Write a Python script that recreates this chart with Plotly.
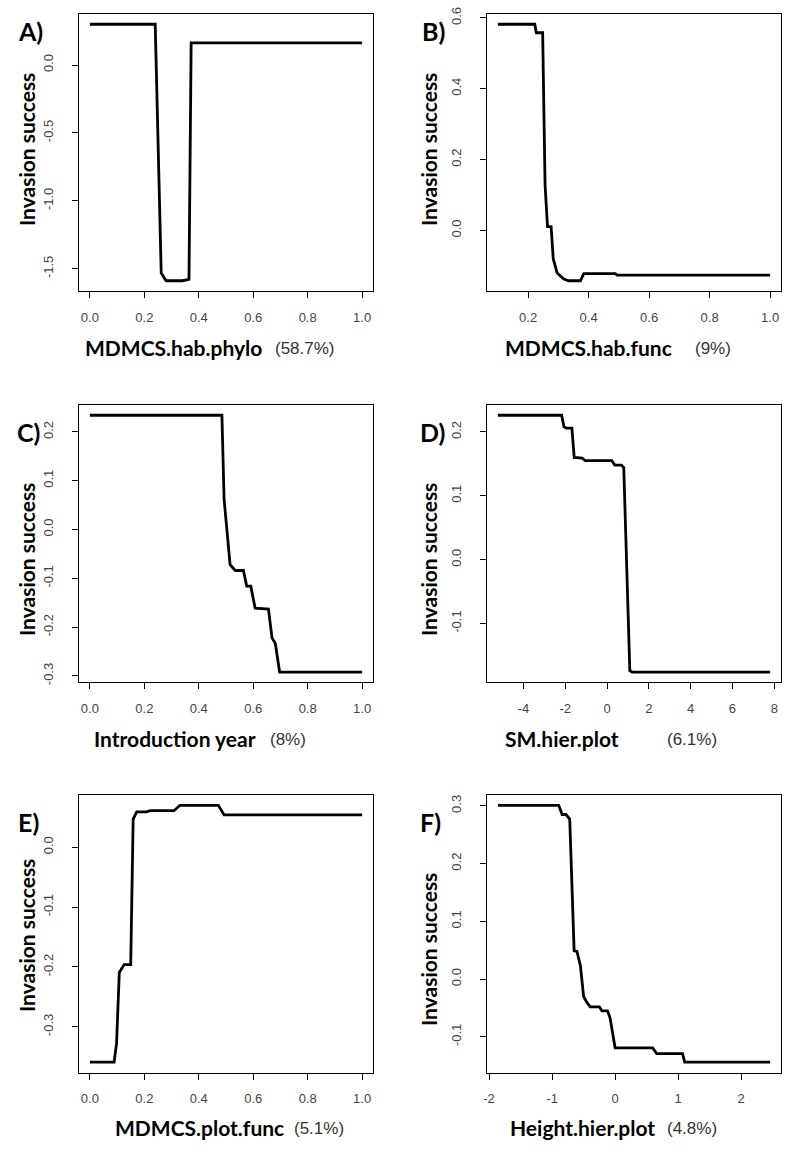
import plotly.graph_objects as go

W, H = 800, 1154

# ---------------- data ----------------
xA = [0.0, 0.240, 0.262, 0.280, 0.340, 0.364, 0.372, 1.0]
yA = [0.300, 0.300, -1.532, -1.588, -1.588, -1.578, 0.163, 0.163]

xB = [0.1, 0.222, 0.227, 0.248, 0.256, 0.264, 0.276, 0.283, 0.296, 0.318, 0.334, 0.373, 0.384, 0.488, 0.494, 1.0]
yB = [0.582, 0.582, 0.558, 0.558, 0.129, 0.011, 0.011, -0.080, -0.120, -0.137, -0.142, -0.142, -0.122, -0.122, -0.126, -0.126]

xC = [0.0, 0.485, 0.493, 0.515, 0.534, 0.564, 0.576, 0.591, 0.607, 0.656, 0.669, 0.681, 0.697, 1.0]
yC = [0.234, 0.234, 0.062, -0.072, -0.084, -0.084, -0.116, -0.116, -0.161, -0.163, -0.222, -0.233, -0.292, -0.292]

xD = [-5.22, -2.17, -2.06, -1.95, -1.68, -1.57, -1.19, -1.04, 0.23, 0.37, 0.69, 0.80, 1.09, 1.20, 7.8]
yD = [0.226, 0.226, 0.208, 0.206, 0.206, 0.160, 0.159, 0.155, 0.155, 0.148, 0.148, 0.144, -0.174, -0.176, -0.176]

xE = [0.0, 0.089, 0.098, 0.108, 0.126, 0.150, 0.159, 0.172, 0.208, 0.221, 0.309, 0.331, 0.472, 0.493, 1.0]
yE = [-0.359, -0.359, -0.327, -0.209, -0.196, -0.196, 0.047, 0.059, 0.059, 0.061, 0.061, 0.070, 0.070, 0.054, 0.054]

xF = [-1.86, -0.895, -0.84, -0.78, -0.72, -0.65, -0.605, -0.55, -0.50, -0.45, -0.395, -0.25, -0.21, -0.12, -0.08, 0.0,
      0.595, 0.66, 1.07, 1.105, 2.46]
yF = [0.301, 0.301, 0.285, 0.285, 0.277, 0.049, 0.048, 0.023, -0.030, -0.040, -0.048, -0.048, -0.055, -0.055, -0.067,
      -0.119, -0.119, -0.129, -0.129, -0.144, -0.144]

panel_letters = ["A)", "B)", "C)", "D)", "E)", "F)"]
var_names = ["MDMCS.hab.phylo", "MDMCS.hab.func", "Introduction year", "SM.hier.plot", "MDMCS.plot.func", "Height.hier.plot"]
importance = ["(58.7%)", "(9%)", "(8%)", "(6.1%)", "(5.1%)", "(4.8%)"]
y_label = "Invasion success"

x_ticks = [
    [0.0, 0.2, 0.4, 0.6, 0.8, 1.0],
    [0.2, 0.4, 0.6, 0.8, 1.0],
    [0.0, 0.2, 0.4, 0.6, 0.8, 1.0],
    [-4, -2, 0, 2, 4, 6, 8],
    [0.0, 0.2, 0.4, 0.6, 0.8, 1.0],
    [-2, -1, 0, 1, 2],
]
x_ticktext = [
    ["0.0", "0.2", "0.4", "0.6", "0.8", "1.0"],
    ["0.2", "0.4", "0.6", "0.8", "1.0"],
    ["0.0", "0.2", "0.4", "0.6", "0.8", "1.0"],
    ["-4", "-2", "0", "2", "4", "6", "8"],
    ["0.0", "0.2", "0.4", "0.6", "0.8", "1.0"],
    ["-2", "-1", "0", "1", "2"],
]
y_ticks = [
    [-1.5, -1.0, -0.5, 0.0],
    [0.0, 0.2, 0.4, 0.6],
    [-0.3, -0.2, -0.1, 0.0, 0.1, 0.2],
    [-0.1, 0.0, 0.1, 0.2],
    [-0.3, -0.2, -0.1, 0.0],
    [-0.1, 0.0, 0.1, 0.2, 0.3],
]
y_ticktext = [
    ["-1.5", "-1.0", "-0.5", "0.0"],
    ["0.0", "0.2", "0.4", "0.6"],
    ["-0.3", "-0.2", "-0.1", "0.0", "0.1", "0.2"],
    ["-0.1", "0.0", "0.1", "0.2"],
    ["-0.3", "-0.2", "-0.1", "0.0"],
    ["-0.1", "0.0", "0.1", "0.2", "0.3"],
]

series = [(xA, yA), (xB, yB), (xC, yC), (xD, yD), (xE, yE), (xF, yF)]

# ---------------- layout geometry (pixels) ----------------
col_x = [(79, 373), (487, 781)]
row_y = [(14, 291), (405, 682.3), (795, 1072.5)]
letter_pos = [(30, 31), (433, 31), (29, 432), (432, 432), (28, 822), (431, 822)]
ylab_pos = [(26, 150), (428, 150), (26, 560), (428, 560), (26, 936), (428, 950)]
xtitle_y = [347, 347, 738, 738, 1127, 1127]
name_x = [83, 503, 92, 503, 113, 508]
pct_x = [273, 693, 268, 665, 292, 665]


def px(x):
    return x / W


def py(y):
    return 1 - y / H


def rng(v):
    lo, hi = min(v), max(v)
    d = (hi - lo) * 0.04
    return [lo - d, hi + d]


BOLD = "Lato, 'Open Sans', sans-serif"
NORM = "'Liberation Sans', Arial, sans-serif"

fig = go.Figure()
layout = dict(
    width=W, height=H,
    margin=dict(l=0, r=0, t=0, b=0, pad=0, autoexpand=False),
    paper_bgcolor="white", plot_bgcolor="white",
    showlegend=False,
)
annotations = []

for i, (xs, ys) in enumerate(series):
    r, c = divmod(i, 2)
    k = "" if i == 0 else str(i + 1)
    fig.add_trace(go.Scatter(x=xs, y=ys, mode="lines", xaxis="x" + k, yaxis="y" + k,
                             line=dict(color="black", width=2.8), hoverinfo="skip"))
    x0, x1 = col_x[c]
    y0, y1 = row_y[r]
    common = dict(showline=True, mirror=True, linecolor="black", linewidth=1,
                  showgrid=False, zeroline=False, ticks="outside", ticklen=6,
                  tickcolor="black", tickwidth=1, automargin=False,
                  tickfont=dict(family=NORM, size=13, color="#444"))
    layout["xaxis" + k] = dict(domain=[px(x0), px(x1)], anchor="y" + k,
                               range=rng(xs), tickmode="array",
                               tickvals=x_ticks[i], ticktext=x_ticktext[i],
                               ticklabelstandoff=8, **common)
    layout["yaxis" + k] = dict(domain=[py(y1), py(y0)], anchor="x" + k,
                               range=rng(ys), tickmode="array",
                               tickvals=y_ticks[i], ticktext=y_ticktext[i],
                               tickangle=-90, ticklabelstandoff=14, **common)
    lx, ly = letter_pos[i]
    annotations.append(dict(text="<b>" + panel_letters[i] + "</b>", x=px(lx), y=py(ly),
                            xref="paper", yref="paper", showarrow=False,
                            xanchor="center", yanchor="middle",
                            font=dict(family=BOLD, size=25, color="black")))
    ax, ay = ylab_pos[i]
    annotations.append(dict(text="<b>" + y_label + "</b>", x=px(ax), y=py(ay),
                            xref="paper", yref="paper", showarrow=False, textangle=-90,
                            xanchor="center", yanchor="middle",
                            font=dict(family=BOLD, size=21, color="black")))
    annotations.append(dict(text="<b>" + var_names[i] + "</b>", x=px(name_x[i]), y=py(xtitle_y[i]),
                            xref="paper", yref="paper", showarrow=False,
                            xanchor="left", yanchor="middle",
                            font=dict(family=BOLD, size=21, color="black")))
    annotations.append(dict(text=importance[i], x=px(pct_x[i]), y=py(xtitle_y[i] + 1),
                            xref="paper", yref="paper", showarrow=False,
                            xanchor="left", yanchor="middle",
                            font=dict(family=NORM, size=17, color="#333")))

layout["annotations"] = annotations
fig.update_layout(**layout)
fig.write_html("out.html", config={"displayModeBar": False},
               post_script="document.body.style.margin='0';document.body.style.overflow='hidden';")
